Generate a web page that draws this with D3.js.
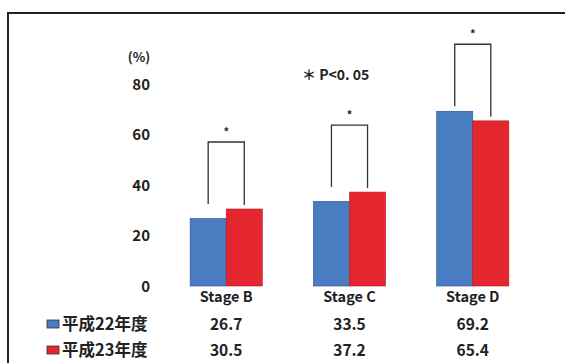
<!DOCTYPE html>
<html><head><meta charset="utf-8">
<script src="https://cdn.jsdelivr.net/npm/d3@7/dist/d3.min.js"></script>
<style>body{margin:0;background:#fff}svg{display:block}text{font-family:"Noto Sans CJK JP","Noto Sans",sans-serif;fill:#222}</style>
</head><body>
<svg id="c" width="565" height="363"></svg>
<script>
const categories = ["Stage B", "Stage C", "Stage D"];
const seriesNames = ["平成22年度", "平成23年度"];
const values22 = [26.7, 33.5, 69.2];
const values23 = [30.5, 37.2, 65.4];
const valueLabels22 = ["26.7", "33.5", "69.2"];
const valueLabels23 = ["30.5", "37.2", "65.4"];
const yTicks = [0, 20, 40, 60, 80];
const significant = [true, true, true];
const colors = ["#4a7cc2", "#e4262e"];

const svg = d3.select("#c");
// frame
svg.append("path").attr("d","M8,363 V13 H565").attr("fill","none").attr("stroke","#222").attr("stroke-width",2);

const y = d3.scaleLinear().domain([0, 80]).range([286, 84]);
const x0 = d3.scaleBand().domain(categories).range([128.5, 570.5]).paddingInner(0.4146).paddingOuter(0.5);
const x1 = d3.scaleBand().domain([0, 1]).range([0, x0.bandwidth()]);

// y tick labels
const yAxis = d3.axisLeft(y).tickValues(yTicks).tickSize(0).tickPadding(0);
const ga = svg.append("g").attr("transform","translate(150,0)").call(yAxis);
ga.select(".domain").remove();
ga.selectAll("text").attr("font-size",15).attr("font-weight","bold").attr("fill","#222").attr("dy","0.35em").attr("text-anchor","end");
svg.append("text").attr("x",139).attr("y",62).attr("text-anchor","middle").attr("font-size",13).attr("font-weight","bold").text("(%)");

svg.append("text").attr("x",302).attr("y",80).attr("font-size",14).attr("font-weight","bold").text("＊ P<0. 05");

const series = [values22, values23];
categories.forEach((c, i) => {
  series.forEach((vals, s) => {
    svg.append("rect")
      .attr("x", x0(c) + x1(s)).attr("y", y(vals[i]))
      .attr("width", x1.bandwidth()).attr("height", y(0) - y(vals[i]))
      .attr("fill", colors[s]).attr("stroke", s===0?"#2d4f86":"#b51a20").attr("stroke-width",0.6);
  });
  if (significant[i]) {
    const vL = values22[i], vR = values23[i], vMax = Math.max(vL, vR);
    const xl = x0(c) + x1(0) + x1.bandwidth()/2, xr = x0(c) + x1(1) + x1.bandwidth()/2;
    const top = y(vMax) - 67;
    svg.append("path")
      .attr("d", `M${xl},${y(vMax)-5} V${top} H${xr} V${y(vR)-4}`)
      .attr("fill","none").attr("stroke","#333").attr("stroke-width",1.3);
    svg.append("text").attr("x",(xl+xr)/2).attr("y",top-6).attr("text-anchor","middle")
      .attr("font-size",11).attr("font-weight","bold").text("*");
  }
  const cx = x0(c) + x0.bandwidth()/2;
  svg.append("text").attr("x",cx).attr("y",302).attr("text-anchor","middle").attr("font-size",14.5).attr("font-weight","bold").text(c);
  svg.append("text").attr("x",cx).attr("y",330).attr("text-anchor","middle").attr("font-size",15.5).attr("font-weight","bold").text(valueLabels22[i]);
  svg.append("text").attr("x",cx).attr("y",356).attr("text-anchor","middle").attr("font-size",15.5).attr("font-weight","bold").text(valueLabels23[i]);
});

// legend rows
seriesNames.forEach((n, s) => {
  const cy = s===0 ? 324 : 350;
  svg.append("rect").attr("x",47).attr("y",cy-4).attr("width",12).attr("height",8)
    .attr("fill",colors[s]).attr("stroke","#333").attr("stroke-width",0.8);
  svg.append("text").attr("x",62).attr("y",cy+6).attr("font-size",16.5).attr("font-weight","bold").text(n);
});
</script>
</body></html>
